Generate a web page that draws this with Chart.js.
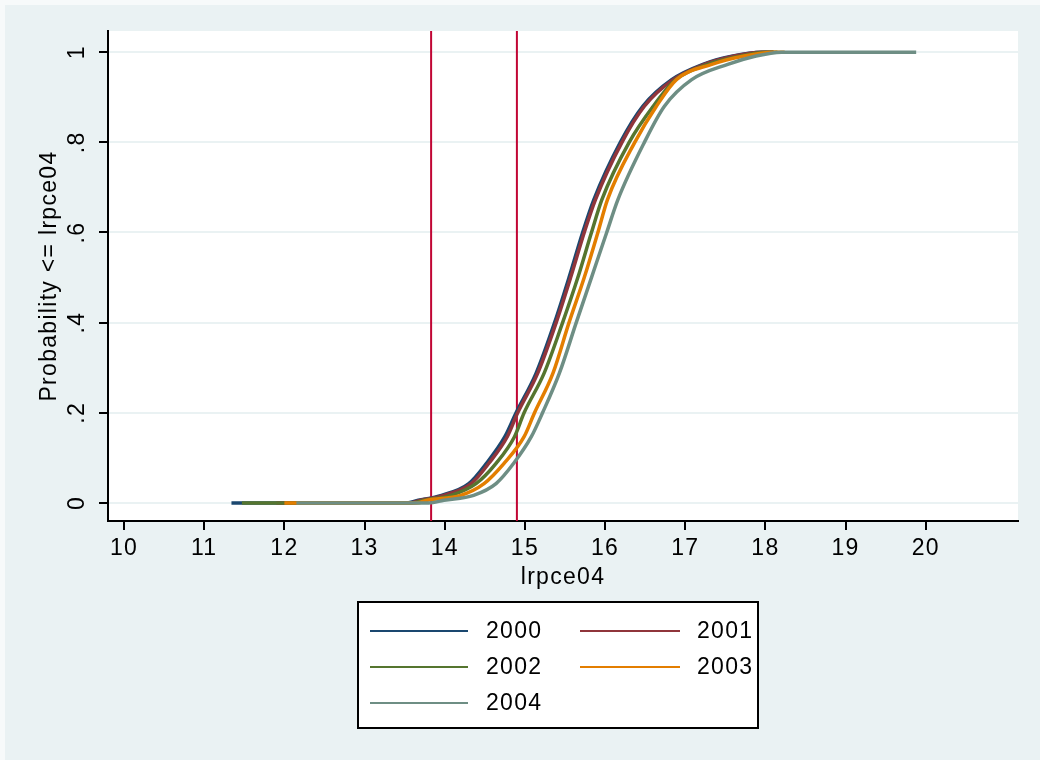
<!DOCTYPE html>
<html>
<head>
<meta charset="utf-8">
<script src="https://cdn.jsdelivr.net/npm/chart.js@4.4.1/dist/chart.umd.min.js"></script>
<style>
  html, body { margin: 0; padding: 0; background: #EAF2F3; }
  #wrap { width: 1040px; height: 760px; position: relative; }
</style>
</head>
<body>
<div id="wrap"><canvas id="cdfChart" width="1040" height="760"></canvas></div>
<script>
// cumulative distribution of lrpce04 by year
const years = ['2000', '2001', '2002', '2003', '2004'];
const probLevels = [0, 0, 0.006, 0.017, 0.043, 0.088, 0.147, 0.2, 0.288, 0.4, 0.5, 0.6, 0.673, 0.8, 0.88, 0.939, 0.973, 0.991, 1, 1];
const x2000 = [11.34, 13.5, 13.67, 13.96, 14.30, 14.52, 14.75, 14.89, 15.14, 15.37, 15.55, 15.72, 15.86, 16.19, 16.47, 16.83, 17.22, 17.58, 17.95, 18.10];
const x2001 = [11.90, 13.55, 13.70, 13.99, 14.33, 14.55, 14.78, 14.91, 15.16, 15.39, 15.57, 15.74, 15.88, 16.21, 16.49, 16.85, 17.24, 17.60, 17.95, 18.10];
const x2002 = [11.47, 13.60, 13.74, 14.08, 14.39, 14.64, 14.87, 14.99, 15.24, 15.47, 15.66, 15.83, 15.96, 16.30, 16.60, 16.88, 17.28, 17.68, 18.00, 18.15];
const x2003 = [12.00, 13.65, 13.78, 14.20, 14.49, 14.74, 14.99, 15.12, 15.35, 15.55, 15.74, 15.91, 16.03, 16.37, 16.64, 16.89, 17.33, 17.72, 18.10, 18.24];
const x2004 = [12.15, 13.80, 13.99, 14.36, 14.64, 14.86, 15.08, 15.22, 15.43, 15.64, 15.83, 16.02, 16.16, 16.49, 16.74, 17.08, 17.53, 17.87, 18.20, 19.88];
const cutoffs = [13.83, 14.9];   // the two red reference lines
const xTicks = [10, 11, 12, 13, 14, 15, 16, 17, 18, 19, 20];
const yTicks = [0, 0.2, 0.4, 0.6, 0.8, 1];
const yTickLabels = ['0', '.2', '.4', '.6', '.8', '1'];

const seriesX = [x2000, x2001, x2002, x2003, x2004];
const colors = ['#1A476F', '#90353B', '#55752F', '#E37E00', '#6E8E84'];
const FONT = '"Liberation Sans", Arial, sans-serif';
const FS = 23;

const datasets = years.map((yr, i) => ({
    label: yr,
    data: seriesX[i].map((x, k) => ({ x: x, y: probLevels[k] })),
    borderColor: colors[i],
    borderWidth: 3.5,
    pointRadius: 0,
    cubicInterpolationMode: 'monotone',
    order: years.length - i
}));
cutoffs.forEach(c => datasets.push({
    label: 'cut',
    data: [{ x: c, y: -1 }, { x: c, y: 2 }],
    borderColor: '#C10534',
    borderWidth: 2,
    pointRadius: 0,
    order: 10
}));

// page background, white plot region and the boxed two-column legend
const decor = {
    id: 'decor',
    beforeDraw(chart) {
        const { ctx, chartArea: a } = chart;
        ctx.letterSpacing = '1.3px';
        ctx.save();
        ctx.fillStyle = '#EAF2F3';
        ctx.fillRect(0, 0, chart.width, chart.height);
        ctx.fillStyle = '#F7FAFA';
        ctx.fillRect(0, 0, chart.width, 5);
        ctx.fillRect(0, 0, 5, chart.height);
        ctx.fillStyle = '#FFFFFF';
        ctx.fillRect(a.left, a.top, a.right - a.left, a.bottom - a.top);
        ctx.restore();
    },
    afterDraw(chart) {
        const ctx = chart.ctx;
        const box = { x: 358, y: 602, w: 400, h: 126 };
        ctx.save();
        ctx.fillStyle = '#FFFFFF';
        ctx.fillRect(box.x, box.y, box.w, box.h);
        ctx.strokeStyle = '#000000';
        ctx.lineWidth = 2;
        ctx.strokeRect(box.x, box.y, box.w, box.h);
        ctx.font = FS + 'px ' + FONT;
        ctx.textBaseline = 'middle';
        ctx.fillStyle = '#000000';
        const cols = [{ l0: 370, l1: 468, t: 486 }, { l0: 580, l1: 680, t: 697 }];
        years.forEach((yr, i) => {
            const c = cols[i % 2];
            const y = 631 + Math.floor(i / 2) * 36;
            ctx.strokeStyle = colors[i];
            ctx.lineWidth = 2;
            ctx.beginPath();
            ctx.moveTo(c.l0, y);
            ctx.lineTo(c.l1, y);
            ctx.stroke();
            ctx.fillText(yr, c.t, y + 1);
        });
        ctx.restore();
    }
};

const ctx = document.getElementById('cdfChart').getContext('2d');
const chart = new Chart(ctx, {
    type: 'line',
    data: { datasets: datasets },
    plugins: [decor],
    options: {
        responsive: false,
        animation: false,
        layout: { padding: { left: 0, top: 31, right: 22, bottom: 159 } },
        plugins: { legend: { display: false }, tooltip: { enabled: false } },
        scales: {
            x: {
                type: 'linear',
                min: 9.8,
                max: 21.15,
                afterBuildTicks: s => { s.ticks = xTicks.map(v => ({ value: v })); },
                afterFit: s => { s.height = 80; },
                border: { display: true, color: '#000000', width: 2 },
                grid: { drawOnChartArea: false, drawTicks: true, tickLength: 9, tickColor: '#000000', lineWidth: 2 },
                ticks: { color: '#000000', font: { family: FONT, size: FS }, padding: 5, maxRotation: 0 },
                title: { display: true, text: 'lrpce04', color: '#000000', font: { family: FONT, size: FS }, padding: { top: 0, bottom: 10 } }
            },
            y: {
                type: 'linear',
                min: -0.04,
                max: 1.047,
                afterBuildTicks: s => { s.ticks = yTicks.map(v => ({ value: v })); },
                afterFit: s => { s.width = 108; },
                border: { display: true, color: '#000000', width: 2 },
                grid: { color: '#EAF2F3', lineWidth: 2, drawTicks: true, tickLength: 9, tickColor: '#000000', tickWidth: 2 },
                ticks: {
                    color: '#000000',
                    font: { family: FONT, size: FS },
                    padding: 12,
                    minRotation: 90,
                    maxRotation: 90,
                    crossAlign: 'center',
                    callback: v => yTickLabels[yTicks.indexOf(v)]
                },
                title: { display: true, text: 'Probability <= lrpce04', color: '#000000', font: { family: FONT, size: FS }, padding: { top: 36, bottom: 0 } }
            }
        }
    }
});
</script>
</body>
</html>
